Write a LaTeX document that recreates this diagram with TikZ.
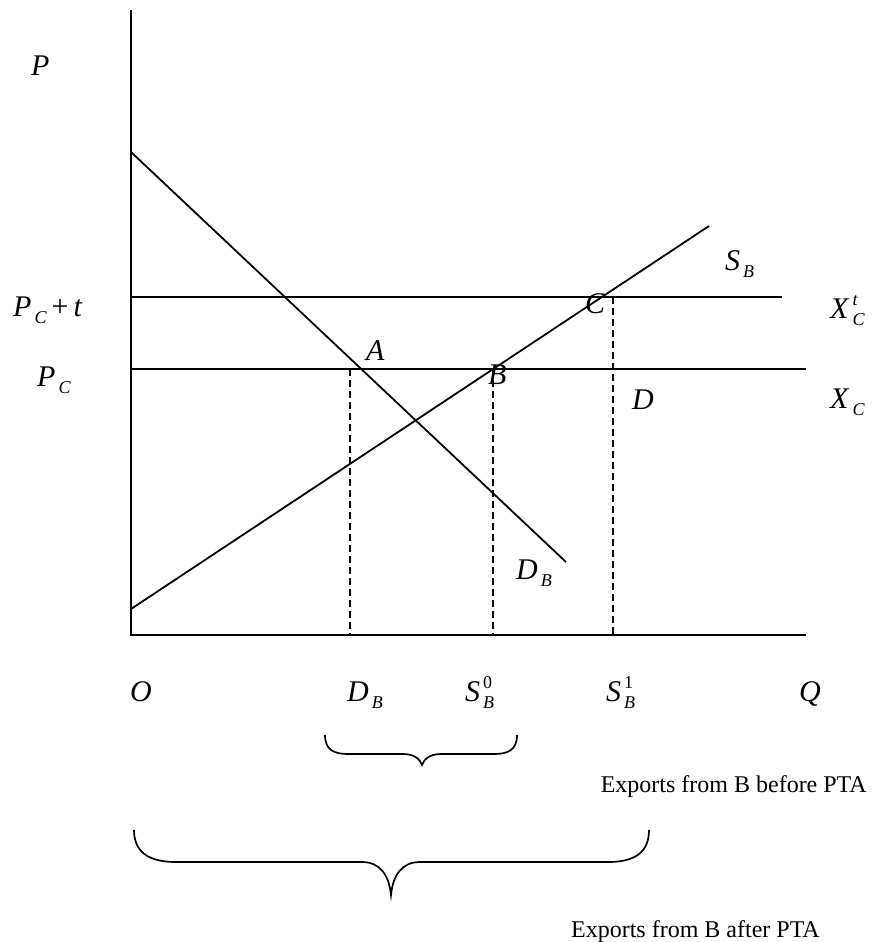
\documentclass[tikz,border=0pt]{standalone}
\usepackage{fontspec}
\setmainfont{Liberation Serif}
\newcommand\bigf{\fontsize{30}{32}\selectfont}
\newcommand\smf{\fontsize{18}{19}\selectfont}
\newcommand\lbsub[2]{\textit{#1}\kern0.1em\raisebox{-0.24em}{\smf\textit{#2}}}
\newcommand\lbboth[3]{\textit{#1}\kern0.1em\rlap{\raisebox{0.43em}{\smf#3}}\raisebox{-0.24em}{\smf\textit{#2}}}
\tikzset{
  axis/.style={line width=2.4pt},
  curve/.style={line width=1.8pt},
  dashline/.style={line width=1.8pt, dash pattern=on 7pt off 4pt},
  brace/.style={line width=1.7pt},
  lab/.style={inner sep=0pt, anchor=base west, font=\bigf},
  txt/.style={inner sep=0pt, anchor=base east, font=\fontsize{24}{26}\selectfont}
}
\begin{document}
\begin{tikzpicture}[x=1pt,y=-1pt]
\useasboundingbox (0,0) rectangle (871,942);
% coordinates
\coordinate (O) at (131,635);
\coordinate (Ytop) at (131,10);
\coordinate (Xend) at (806,635);
\coordinate (Ht0) at (131,297);
\coordinate (Ht1) at (782,297);
\coordinate (H0) at (131,369);
\coordinate (H1) at (806,369);
\coordinate (D0) at (131,152);
\coordinate (D1) at (566,562);
\coordinate (S0) at (131,609);
\coordinate (S1) at (709,226);
\coordinate (v1t) at (350,369);
\coordinate (v1b) at (350,635);
\coordinate (v2t) at (493,369);
\coordinate (v2b) at (493,635);
\coordinate (v3t) at (613,297);
\coordinate (v3b) at (613,635);
% axes
\draw[axis] (Ytop) -- (O) -- (Xend);
% price lines
\draw[curve] (Ht0) -- (Ht1);
\draw[curve] (H0) -- (H1);
% demand and supply
\draw[curve] (D0) -- (D1);
\draw[curve] (S0) -- (S1);
% dashed
\draw[dashline] (v1t) -- (v1b);
\draw[dashline] (v2t) -- (v2b);
\draw[dashline] (v3t) -- (v3b);
% labels
\node[lab] (lP) at (31,75) {\textit{P}};
\node[lab] (lPCt) at (13,316) {\lbsub{P}{C}\,+\,\textit{t}};
\node[lab] (lPC) at (37,386) {\lbsub{P}{C}};
\node[lab] (lA) at (366,360) {\textit{A}};
\node[lab] (lB) at (488,384) {\textit{B}};
\node[lab] (lC) at (585,313) {\textit{C}};
\node[lab] (lD) at (632,409) {\textit{D}};
\node[lab] (lSB) at (725,270) {\lbsub{S}{B}};
\node[lab] (lXCt) at (830,318) {\lbboth{X}{C}{\textit{t}}};
\node[lab] (lXC) at (830,408) {\lbsub{X}{C}};
\node[lab] (lDB) at (516,579) {\lbsub{D}{B}};
\node[lab] (lO) at (130,701) {\textit{O}};
\node[lab] (lDBa) at (347,701) {\lbsub{D}{B}};
\node[lab] (lS0) at (465,701) {\lbboth{S}{B}{0}};
\node[lab] (lS1) at (606,701) {\lbboth{S}{B}{1}};
\node[lab] (lQ) at (799,701) {\textit{Q}};
% braces
\draw[brace] (325,735) .. controls (325,750) and (334,754) .. (348,754) -- (403,754)
  .. controls (414,754) and (420,759) .. (422,765)
  .. controls (424,759) and (430,754) .. (441,754) -- (494,754)
  .. controls (508,754) and (517,750) .. (517,735);
\draw[brace] (134,830) .. controls (134,853) and (150,862) .. (176,862) -- (362,862)
  .. controls (380,862) and (389,875) .. (391,895)
  .. controls (393,875) and (402,862) .. (420,862) -- (608,862)
  .. controls (634,862) and (649,853) .. (649,830);
\node[txt] (t1) at (867,792) {Exports from B before PTA};
\node[txt] (t2) at (820,937) {Exports from B after PTA};
\end{tikzpicture}
\end{document}
